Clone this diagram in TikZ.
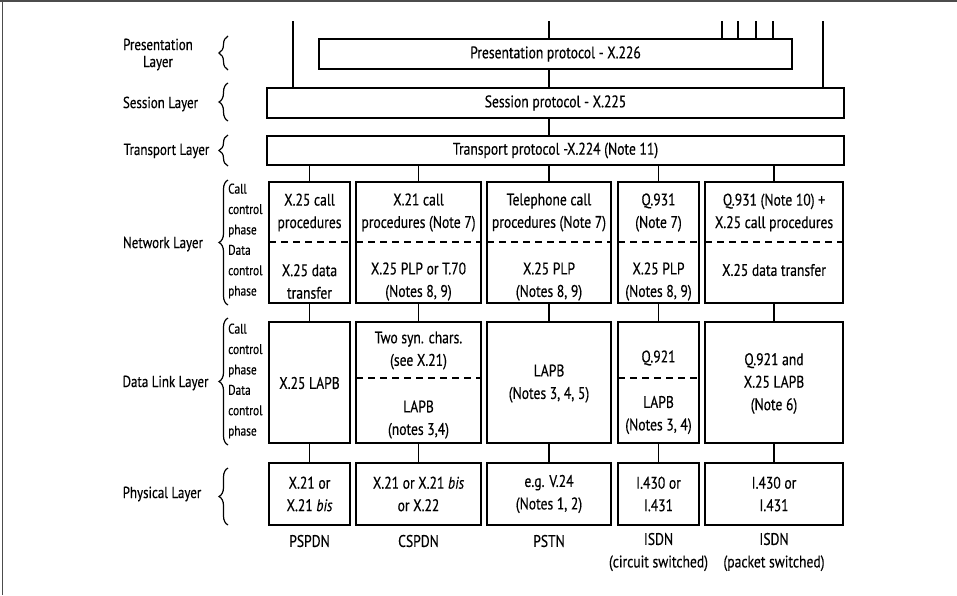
\documentclass[tikz,border=0pt]{standalone}
\usepackage{fontspec}
\setmainfont[FakeStretch=0.81,FakeBold=0.4]{PT Sans}
\usetikzlibrary{decorations.pathreplacing}
\begin{document}
\begin{tikzpicture}[x=1pt,y=-1pt,
  box/.style={draw, line width=1.6pt, rectangle, inner sep=0pt, outer sep=0pt},
  txt/.style={align=center, inner sep=0pt, font=\fontsize{16.8}{22.5}\selectfont},
  lbl/.style={align=center, inner sep=0pt, font=\fontsize{16}{17}\selectfont},
  small/.style={align=left, inner sep=0pt, anchor=west, font=\fontsize{14}{20.4}\selectfont},
  conn/.style={line width=1.3pt},
  dashline/.style={line width=1.5pt, dash pattern=on 7pt off 5pt},
  brc/.style={decorate, decoration={brace, amplitude=9pt, aspect=0.5}, line width=1.2pt},
  frame/.style={line width=1.4pt, draw=black!70}]
\useasboundingbox (0,0) rectangle (957,595);
\draw[frame] (0,1) -- (957,1);
\draw[frame] (2.5,0) -- (2.5,595);

% --- top boxes
\node[box, minimum width=473pt, minimum height=30pt] (pres) at (555.5,54) {};
\node[txt] (prest) at (555.5,54) {Presentation protocol - X.226};
\node[box, minimum width=577pt, minimum height=30pt] (sess) at (555.5,103) {};
\node[txt] (sesst) at (555.5,103) {Session protocol - X.225};
\node[box, minimum width=577pt, minimum height=29pt] (trans) at (555.5,150.5) {};
\node[txt] (transt) at (555.5,150.5) {Transport protocol -X.224 (Note 11)};

% --- free top lines
\coordinate (u1) at (293,21);
\coordinate (u2) at (549,21);
\coordinate (u3) at (722,21);
\coordinate (u4) at (738,21);
\coordinate (u5) at (756,21);
\coordinate (u6) at (773,21);
\coordinate (u7) at (823,21);
\draw[conn] (u1) -- (u1 |- sess.north);
\draw[conn] (u2) -- (u2 |- pres.north);
\draw[conn] (u3) -- (u3 |- pres.north);
\draw[conn] (u4) -- (u4 |- pres.north);
\draw[conn] (u5) -- (u5 |- pres.north);
\draw[conn] (u6) -- (u6 |- pres.north);
\draw[conn] (u7) -- (u7 |- sess.north);
\draw[conn] (u2 |- pres.south) -- (u2 |- sess.north);
\draw[conn] (u2 |- sess.south) -- (u2 |- trans.north);

% --- network layer
\coordinate (nd) at (0,242);
\node[box, minimum width=81pt, minimum height=121pt] (n1) at (309.5,242.5) {};
\node[box, minimum width=125pt, minimum height=121pt] (n2) at (418.5,242.5) {};
\node[box, minimum width=124pt, minimum height=121pt] (n3) at (549,242.5) {};
\node[box, minimum width=81pt, minimum height=121pt] (n4) at (658.5,242.5) {};
\node[box, minimum width=138pt, minimum height=121pt] (n5) at (774,242.5) {};
\foreach \n in {n1,n2,n3,n4,n5} {
  \draw[dashline] (\n.west |- nd) -- (\n.east |- nd);
  \draw[conn] (\n.north |- trans.south) -- (\n.north);
}
\node[txt] (n1a) at (309.5,212.5) {X.25 call\\procedures};
\node[txt] (n1b) at (309.5,281.5) {X.25 data\\transfer};
\node[txt] (n2a) at (418.5,212.5) {X.21 call\\procedures (Note 7)};
\node[txt] (n2b) at (418.5,281.5) {X.25 PLP or T.70\\(Notes 8, 9)};
\node[txt] (n3a) at (549,212.5) {Telephone call\\procedures (Note 7)};
\node[txt] (n3b) at (549,281.5) {X.25 PLP\\(Notes 8, 9)};
\node[txt] (n4a) at (658.5,212.5) {Q.931\\(Note 7)};
\node[txt] (n4b) at (658.5,281.5) {X.25 PLP\\(Notes 8, 9)};
\node[txt] (n5a) at (774,212.5) {Q.931 (Note 10) +\\X.25 call procedures};
\node[txt] (n5b) at (774,270) {X.25 data transfer};

% --- data link layer
\coordinate (dd) at (0,378);
\node[box, minimum width=81pt, minimum height=121pt] (d1) at (309.5,382.5) {};
\node[box, minimum width=125pt, minimum height=121pt] (d2) at (418.5,382.5) {};
\node[box, minimum width=124pt, minimum height=121pt] (d3) at (549,382.5) {};
\node[box, minimum width=81pt, minimum height=121pt] (d4) at (658.5,382.5) {};
\node[box, minimum width=138pt, minimum height=121pt] (d5) at (774,382.5) {};
\draw[dashline] (d2.west |- dd) -- (d2.east |- dd);
\draw[dashline] (d4.west |- dd) -- (d4.east |- dd);
\draw[conn] (n1.south) -- (d1.north);
\draw[conn] (n2.south) -- (d2.north);
\draw[conn] (n3.south) -- (d3.north);
\draw[conn] (n4.south) -- (d4.north);
\draw[conn] (n5.south) -- (d5.north);
\node[txt] (d1a) at (309.5,383) {X.25 LAPB};
\node[txt] (d2a) at (418.5,350.5) {Two syn. chars.\\(see X.21)};
\node[txt] (d2b) at (418.5,419.5) {LAPB\\(notes 3,4)};
\node[txt] (d3a) at (549,383.5) {LAPB\\(Notes 3, 4, 5)};
\node[txt] (d4a) at (658.5,358) {Q.921};
\node[txt] (d4b) at (658.5,415) {LAPB\\(Notes 3, 4)};
\node[txt] (d5a) at (774,383.5) {Q.921 and\\X.25 LAPB\\(Note 6)};

% --- physical layer
\node[box, minimum width=81pt, minimum height=62pt] (p1) at (309.5,494) {};
\node[box, minimum width=125pt, minimum height=62pt] (p2) at (418.5,494) {};
\node[box, minimum width=124pt, minimum height=62pt] (p3) at (549,494) {};
\node[box, minimum width=81pt, minimum height=62pt] (p4) at (658.5,494) {};
\node[box, minimum width=138pt, minimum height=62pt] (p5) at (774,494) {};
\draw[conn] (d1.south) -- (p1.north);
\draw[conn] (d2.south) -- (p2.north);
\draw[conn] (d3.south) -- (p3.north);
\draw[conn] (d4.south) -- (p4.north);
\draw[conn] (d5.south) -- (p5.north);
\node[txt] (p1a) at (309.5,494) {X.21 or\\X.21 \textit{bis}};
\node[txt] (p2a) at (418.5,494) {X.21 or X.21 \textit{bis}\\or X.22};
\node[txt] (p3a) at (549,494) {e.g. V.24\\(Notes 1, 2)};
\node[txt] (p4a) at (658.5,494) {I.430 or\\I.431};
\node[txt] (p5a) at (774,494) {I.430 or\\I.431};

\node[txt] (q1) at (309.5,541) {PSPDN};
\node[txt] (q2) at (418.5,541) {CSPDN};
\node[txt] (q3) at (549,541) {PSTN};
\node[txt] (q4) at (658.5,552) {ISDN\\(circuit switched)};
\node[txt] (q5) at (774,552) {ISDN\\(packet switched)};

% --- left labels and braces
\node[lbl] (lpres) at (158,54.5) {Presentation\\Layer};
\draw[brc] (228,70) -- (228,36);
\node[lbl] (lsess) at (160.5,104) {Session Layer};
\draw[brc] (228,121) -- (228,83);
\node[lbl] (ltrans) at (166.5,151) {Transport Layer};
\draw[brc] (228,166) -- (228,135);
\node[lbl] (lnet) at (163,244) {Network Layer};
\draw[brc] (228,305) -- (228,180);
\node[small] (snet) at (228,241) {Call\\control\\phase\\Data\\control\\phase};
\node[lbl] (ldl) at (165.5,383) {Data Link Layer};
\draw[brc] (228,445) -- (228,318);
\node[small] (sdl) at (228,381) {Call\\control\\phase\\Data\\control\\phase};
\node[lbl] (lphys) at (162,494) {Physical Layer};
\draw[brc] (228,525) -- (228,468);
\end{tikzpicture}
\end{document}
